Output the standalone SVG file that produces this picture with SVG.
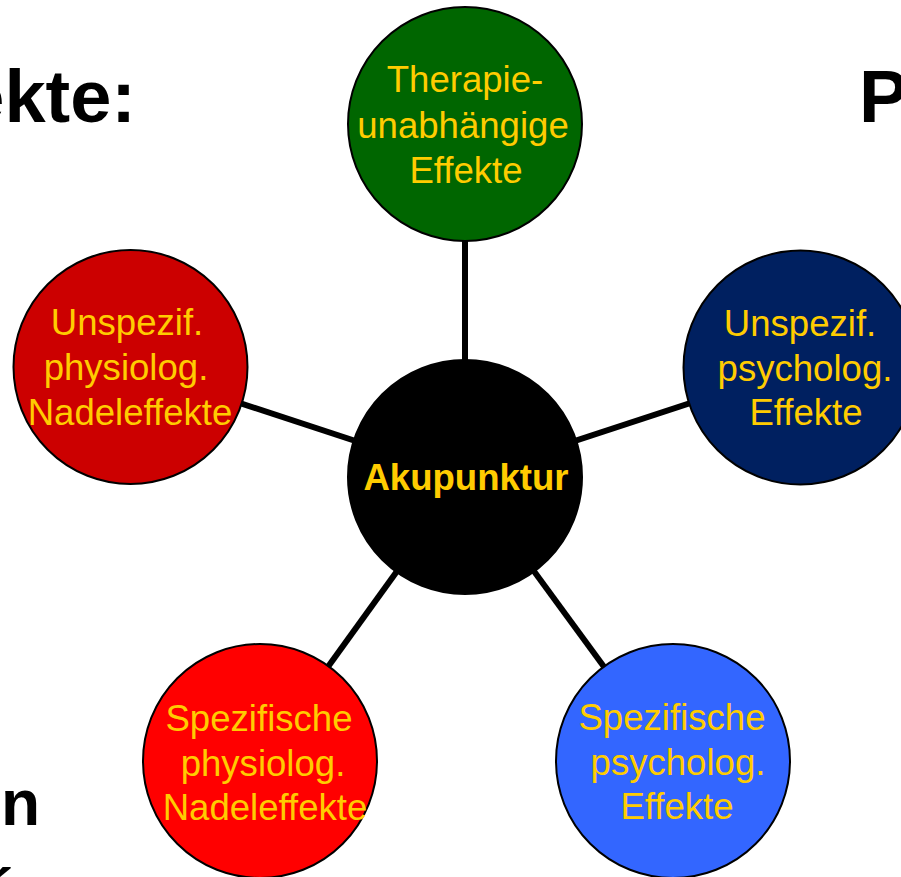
<svg xmlns="http://www.w3.org/2000/svg" width="901" height="877" viewBox="0 0 901 877">
<style>
.bg{font-family:"Liberation Sans",Arial,sans-serif;font-weight:bold;fill:#000}
.node circle{stroke:#000;stroke-width:2}
.lbl{font-family:"Liberation Sans",Arial,sans-serif;font-size:36.6px;fill:#FFCC00;text-anchor:middle}
.conn line{stroke:#000;stroke-width:6}
</style>
<rect width="901" height="877" fill="#fff"/>
<text class="bg" x="136" y="122" font-size="74" text-anchor="end">ekte:</text>
<text class="bg" x="859" y="122" font-size="74">P</text>
<text class="bg" x="1" y="825" font-size="64">n</text>
<text class="bg" x="-8" y="915" font-size="64">´</text>
<g id="connectors" class="conn">
<line x1="465" y1="477" x2="465" y2="124"/>
<line x1="465" y1="477" x2="130" y2="367"/>
<line x1="465" y1="477" x2="800" y2="367"/>
<line x1="465" y1="477" x2="260" y2="761"/>
<line x1="465" y1="477" x2="673" y2="761"/>
</g>
<g id="node-therapie" class="node">
<circle cx="465" cy="124" r="117" fill="#006600"/>
<text class="lbl" x="465" y="92">Therapie-</text>
<text class="lbl" x="463" y="138">unabhängige</text>
<text class="lbl" x="466" y="183">Effekte</text>
</g>
<g id="node-akupunktur" class="node">
<circle cx="465" cy="477" r="117" fill="#000"/>
<text class="lbl" x="466" y="490" font-weight="bold" font-size="33">Akupunktur</text>
</g>
<g id="node-unspez-physio" class="node">
<circle cx="130.5" cy="367" r="117" fill="#CC0000"/>
<text class="lbl" x="127" y="335">Unspezif.</text>
<text class="lbl" x="126" y="380">physiolog.</text>
<text class="lbl" x="130" y="425">Nadeleffekte</text>
</g>
<g id="node-unspez-psycho" class="node">
<circle cx="800.5" cy="367.5" r="117" fill="#002060"/>
<text class="lbl" x="800" y="336">Unspezif.</text>
<text class="lbl" x="805" y="381">psycholog.</text>
<text class="lbl" x="806" y="425">Effekte</text>
</g>
<g id="node-spez-physio" class="node">
<circle cx="260" cy="761" r="117" fill="#FF0000"/>
<text class="lbl" x="259" y="731">Spezifische</text>
<text class="lbl" x="263" y="776">physiolog.</text>
<text class="lbl" x="265" y="820">Nadeleffekte</text>
</g>
<g id="node-spez-psycho" class="node">
<circle cx="673" cy="761" r="117" fill="#3366FF"/>
<text class="lbl" x="672" y="730">Spezifische</text>
<text class="lbl" x="678" y="775">psycholog.</text>
<text class="lbl" x="677" y="819">Effekte</text>
</g>
</svg>
